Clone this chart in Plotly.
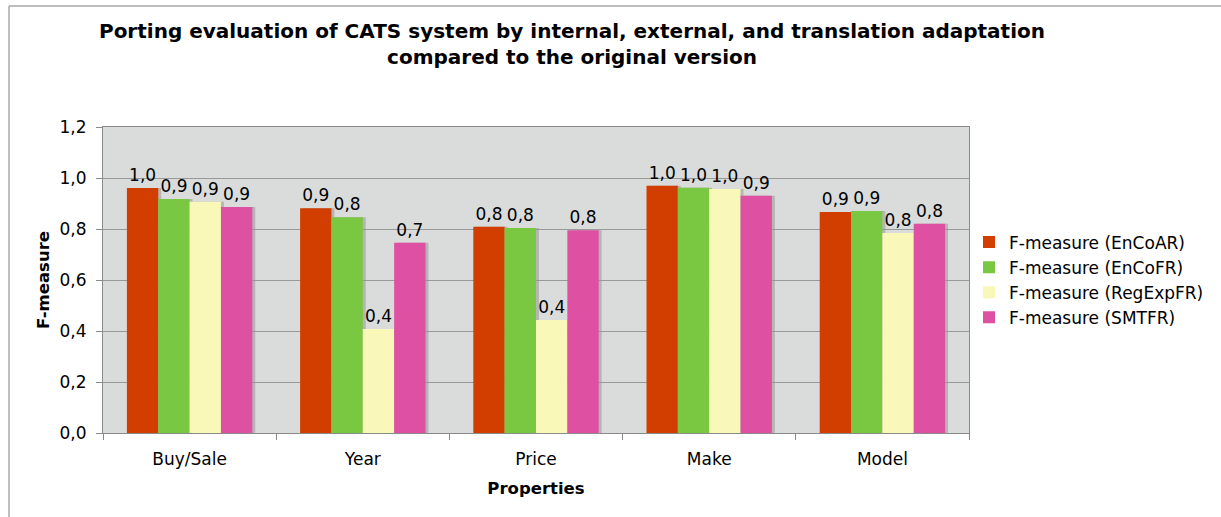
import plotly.graph_objects as go

categories = ["Buy/Sale", "Year", "Price", "Make", "Model"]
series_names = ["F-measure (EnCoAR)", "F-measure (EnCoFR)", "F-measure (RegExpFR)", "F-measure (SMTFR)"]
encoar = [0.961, 0.881, 0.809, 0.970, 0.867]
encofr = [0.918, 0.846, 0.804, 0.962, 0.871]
regexpfr = [0.907, 0.408, 0.443, 0.957, 0.784]
smtfr = [0.886, 0.746, 0.795, 0.930, 0.821]
colors = ["#d23e00", "#7ac841", "#faf8b9", "#de50a2"]
y_ticks = [0, 0.2, 0.4, 0.6, 0.8, 1.0, 1.2]

series = [encoar, encofr, regexpfr, smtfr]
FONT = "DejaVu Sans"
bw = 0.181
shift = 0.017

fig = go.Figure()
# shadows
for i, vals in enumerate(series):
    fig.add_trace(go.Bar(
        x=categories, y=vals, width=bw, offset=-2 * bw + i * bw + shift,
        marker=dict(color="rgba(150,150,150,0.55)", line=dict(width=0)),
        showlegend=False, hoverinfo="skip",
    ))
for i, vals in enumerate(series):
    fig.add_trace(go.Bar(
        x=categories, y=vals, width=bw, offset=-2 * bw + i * bw,
        name=series_names[i],
        marker=dict(color=colors[i], line=dict(width=0)),
        texttemplate="%{y:.1f}", textposition="outside",
        textfont=dict(family=FONT, size=17, color="#000000"),
        constraintext="none", cliponaxis=False,
    ))

fig.update_layout(
    width=1221, height=517,
    barmode="overlay",
    separators=",.",
    paper_bgcolor="#ffffff",
    plot_bgcolor="#dadcdc",
    margin=dict(l=103, r=252, t=127, b=84),
    font=dict(family=FONT, size=17, color="#000000"),
    title=dict(
        text="Porting evaluation of CATS system by internal, external, and translation adaptation<br>compared to the original version",
        x=572 / 1221, xanchor="center", xref="container",
        y=1 - 38 / 517, yanchor="top", yref="container",
        font=dict(family=FONT, size=20, color="#000000", weight="bold"),
    ),
    legend=dict(
        x=1.0, xanchor="left", y=0.50, yanchor="middle",
        font=dict(family=FONT, size=17, color="#000000"),
        bgcolor="rgba(0,0,0,0)", traceorder="normal",
        tracegroupgap=0,
    ),
    xaxis=dict(
        type="category", range=[-0.5, 4.5],
        showline=True, linecolor="#8a8a8a", linewidth=1, mirror=True,
        ticks="outside", tickson="boundaries", ticklen=6, tickcolor="#8a8a8a",
        showgrid=False,
        tickfont=dict(family=FONT, size=17),
        ticklabelstandoff=11,
        title=dict(text="<b>Properties</b>", font=dict(family=FONT, size=16.5), standoff=14),
    ),
    yaxis=dict(
        range=[0, 1.2], tickvals=y_ticks, tickformat=".1f",
        showline=True, linecolor="#8a8a8a", linewidth=1, mirror=True,
        ticks="outside", ticklen=6, tickcolor="#8a8a8a",
        showgrid=True, gridcolor="#999999", gridwidth=1,
        zeroline=False,
        tickfont=dict(family=FONT, size=17),
        ticklabelstandoff=6,
        title=dict(text="<b>F-measure</b>", font=dict(family=FONT, size=16.5), standoff=5),
    ),
    shapes=[
        dict(type="line", xref="paper", yref="paper", x0=(9 - 103) / 866, x1=(1221 - 103) / 866,
             y0=(433 - 6) / 306, y1=(433 - 6) / 306, line=dict(color="#a8a8a8", width=1.5)),
        dict(type="line", xref="paper", yref="paper", x0=(9 - 103) / 866, x1=(9 - 103) / 866,
             y0=(433 - 6) / 306, y1=(433 - 530) / 306, line=dict(color="#a8a8a8", width=1.5)),
    ],
)

fig.write_html(
    "out.html",
    config={"displayModeBar": False},
    post_script="document.body.style.margin='0';document.body.style.padding='0';",
)
